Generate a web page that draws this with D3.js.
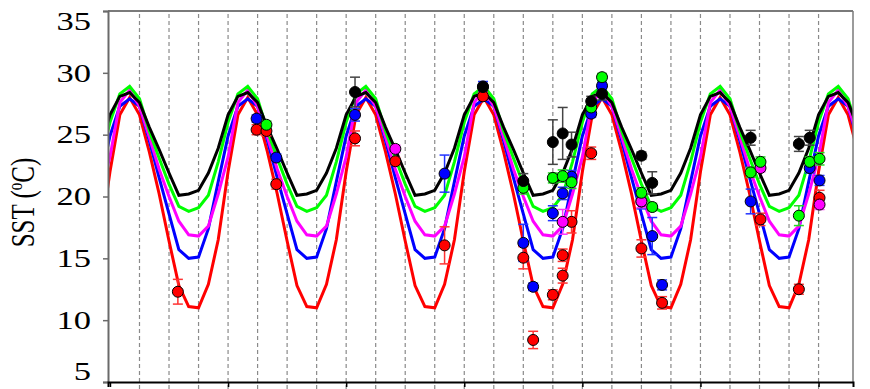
<!DOCTYPE html>
<html>
<head>
<meta charset="utf-8">
<script src="https://cdnjs.cloudflare.com/ajax/libs/d3/7.8.5/d3.min.js"></script>
<style>
  body { margin: 0; background: #fff; }
  svg { display: block; }
</style>
</head>
<body>
<div id="chart"></div>
<script>
// y axis ticks, yearly x ticks (months from start) and quarterly dashed grid
const yTicks = [5, 10, 15, 20, 25, 30, 35];
const yearTicks = [0, 12, 24, 36, 48, 60, 72];
const gridMonths = [3, 6, 9, 12, 15, 18, 21, 24, 27, 30, 33, 36, 39, 42, 45, 48, 51, 54, 57, 60, 63, 66, 69, 72];

// monthly climatology (month 0 = first year tick), repeated every year
const climBlack   = [26.6, 28.1, 28.4, 27.6, 25.6, 23.8, 21.9, 20.1, 20.2, 20.5, 21.9, 23.9];
const climGreen   = [26.0, 28.3, 28.9, 27.9, 25.3, 23.1, 21.0, 19.2, 18.8, 19.1, 20.1, 22.8];
const climMagenta = [23.2, 27.6, 28.6, 27.3, 24.8, 22.2, 20.0, 18.0, 16.9, 16.8, 17.6, 20.2];
const climBlue    = [24.9, 27.3, 27.9, 27.3, 24.5, 21.5, 18.6, 15.7, 15.0, 15.1, 17.4, 21.2];
const climRed     = [22.0, 26.6, 28.0, 26.6, 23.6, 20.2, 16.4, 12.8, 11.1, 11.0, 12.9, 16.5];

// observations: [month, SST, error]
const obsBlue = [
  [14.9, 26.3, 0.3], [16.9, 23.15, 0.3], [24.9, 26.6, 0.5], [34.0, 21.85, 1.5],
  [37.9, 28.9, 0.4], [42.0, 16.25, 1.5], [43.0, 12.7, 0.3], [45.0, 18.65, 0.6],
  [46.0, 20.25, 0.5], [46.9, 21.6, 0.5], [48.9, 26.7, 0.3], [50.0, 28.95, 0.3],
  [54.0, 19.6, 0.6], [55.1, 16.8, 1.5], [56.1, 12.85, 0.4], [65.1, 19.6, 1.0],
  [71.1, 22.3, 0.4], [72.1, 21.3, 0.4]
];
const obsRed = [
  [6.9, 12.3, 1.0], [14.9, 25.4, 0.4], [15.9, 25.3, 0.4], [16.9, 21.0, 0.4],
  [24.9, 24.7, 0.6], [29.0, 22.85, 0.3], [34.0, 16.05, 1.5], [37.9, 28.1, 0.3],
  [42.0, 15.05, 0.9], [43.0, 8.4, 0.7], [45.0, 12.05, 0.4], [46.0, 15.25, 0.5],
  [46.0, 13.6, 0.6], [46.9, 17.95, 0.9], [48.9, 23.5, 0.5], [54.0, 15.8, 0.7],
  [56.1, 11.4, 0.5], [66.1, 18.15, 0.5], [70.0, 12.5, 0.4], [72.1, 19.9, 0.6]
];
const obsMagenta = [
  [29.0, 23.85, 0.3], [46.0, 17.95, 1.0], [54.0, 19.6, 0.5], [66.1, 22.3, 0.3],
  [72.1, 19.35, 0.4]
];
const obsGreen = [
  [15.9, 25.8, 0.3], [42.0, 20.7, 0.5], [45.0, 21.5, 0.4], [46.0, 21.65, 0.5],
  [46.9, 21.15, 0.5], [48.9, 27.2, 0.4], [50.0, 29.65, 0.3], [54.0, 20.3, 0.4],
  [55.1, 19.15, 0.3], [65.1, 21.95, 0.4], [66.1, 22.8, 0.4], [70.0, 18.45, 0.8],
  [71.1, 22.8, 0.4], [72.1, 23.05, 0.5]
];
const obsBlack = [
  [24.9, 28.45, 1.2], [37.9, 28.85, 0.3], [42.0, 21.25, 0.6], [45.0, 24.4, 1.8],
  [46.0, 25.1, 2.1], [46.9, 24.2, 1.0], [48.9, 27.7, 0.4], [50.0, 28.3, 0.5],
  [54.0, 23.3, 0.3], [55.1, 21.1, 0.9], [65.1, 24.75, 0.6], [70.0, 24.25, 0.6],
  [71.1, 24.75, 0.6]
];

const width = 870, height = 389;
const margin = { left: 108, right: 17, top: 11, bottom: 7 };

const svg = d3.select("#chart").append("svg")
  .attr("width", width)
  .attr("height", height);

const x = d3.scaleLinear().domain([-0.2, 75.5]).range([margin.left, width - margin.right]);
const y = d3.scaleLinear().domain([5, 35]).range([height - margin.bottom, margin.top]);

svg.append("clipPath").attr("id", "plot")
  .append("rect")
  .attr("x", margin.left).attr("y", margin.top)
  .attr("width", width - margin.left - margin.right)
  .attr("height", height - margin.top - margin.bottom);

// dashed grid
svg.append("g").selectAll("line")
  .data(gridMonths)
  .join("line")
  .attr("x1", d => x(d)).attr("x2", d => x(d))
  .attr("y1", margin.top + 3).attr("y2", height)
  .attr("stroke", "#8a8a8a")
  .attr("stroke-width", 1.2)
  .attr("stroke-dasharray", "4,3");

// climatology lines
const months = d3.range(-1, 77);
const line = d3.line().x(d => x(d.m)).y(d => y(d.v));
const lines = [
  { c: "#ff0000", clim: climRed },
  { c: "#0000ff", clim: climBlue },
  { c: "#ff00ff", clim: climMagenta },
  { c: "#00ff00", clim: climGreen },
  { c: "#000000", clim: climBlack }
];
const lg = svg.append("g").attr("clip-path", "url(#plot)");
lines.forEach(s => {
  const data = months.map(m => ({ m: m, v: s.clim[((m % 12) + 12) % 12] }));
  lg.append("path")
    .datum(data)
    .attr("fill", "none")
    .attr("stroke", s.c)
    .attr("stroke-width", 3)
    .attr("stroke-linejoin", "miter")
    .attr("d", line);
});

// observations
const obs = [
  { c: "#0000ff", e: "#2233ff", d: obsBlue },
  { c: "#ff0000", e: "#ff3333", d: obsRed },
  { c: "#ff00ff", e: "#ff33ff", d: obsMagenta },
  { c: "#00ff00", e: "#22dd22", d: obsGreen },
  { c: "#000000", e: "#444444", d: obsBlack }
];
const eg = svg.append("g");
obs.forEach(s => {
  const g = eg.append("g").attr("stroke", s.e).attr("stroke-width", 1.5);
  g.selectAll(".bar").data(s.d).join("line")
    .attr("x1", d => x(d[0])).attr("x2", d => x(d[0]))
    .attr("y1", d => y(d[1] - d[2])).attr("y2", d => y(d[1] + d[2]));
  g.selectAll(".capT").data(s.d).join("line")
    .attr("x1", d => x(d[0]) - 5).attr("x2", d => x(d[0]) + 5)
    .attr("y1", d => y(d[1] + d[2])).attr("y2", d => y(d[1] + d[2]));
  g.selectAll(".capB").data(s.d).join("line")
    .attr("x1", d => x(d[0]) - 5).attr("x2", d => x(d[0]) + 5)
    .attr("y1", d => y(d[1] - d[2])).attr("y2", d => y(d[1] - d[2]));
});
const pg = svg.append("g");
obs.forEach(s => {
  pg.append("g").selectAll("circle").data(s.d).join("circle")
    .attr("cx", d => x(d[0]))
    .attr("cy", d => y(d[1]))
    .attr("r", 5.5)
    .attr("fill", s.c)
    .attr("stroke", "#000")
    .attr("stroke-width", 1);
});

// frame: top and right borders
svg.append("line")
  .attr("x1", margin.left).attr("x2", width - margin.right)
  .attr("y1", margin.top).attr("y2", margin.top)
  .attr("stroke", "#7a7a7a").attr("stroke-width", 2);
svg.append("line")
  .attr("x1", width - margin.right).attr("x2", width - margin.right)
  .attr("y1", margin.top).attr("y2", height - margin.bottom)
  .attr("stroke", "#7a7a7a").attr("stroke-width", 1.5);

// y axis
const yAxis = svg.append("g")
  .attr("transform", `translate(${margin.left},0)`)
  .call(d3.axisLeft(y).tickValues(yTicks).tickSize(5).tickFormat(""));
yAxis.select(".domain").attr("stroke", "#6a6a6a").attr("stroke-width", 2);
yAxis.selectAll(".tick line").attr("stroke", "#6a6a6a").attr("stroke-width", 1.5);

// tick labels, kept inside the picture at the ends
svg.append("g").selectAll("text")
  .data(yTicks)
  .join("text")
  .attr("transform", d => `translate(91,${Math.max(21, Math.min(371, y(d)))}) scale(1.38,1)`)
  .attr("dy", "0.35em")
  .attr("text-anchor", "end")
  .attr("font-family", "'Liberation Serif', 'Times New Roman', serif")
  .attr("font-size", 25)
  .attr("fill", "#000")
  .text(d => d);

// x axis
const xAxis = svg.append("g")
  .attr("transform", `translate(0,${height - margin.bottom})`)
  .call(d3.axisBottom(x).tickValues(yearTicks).tickSize(5).tickFormat(""));
xAxis.select(".domain").attr("stroke", "#000").attr("stroke-width", 2);
xAxis.selectAll(".tick line").attr("stroke", "#000").attr("stroke-width", 1.5);

// y label
const yl = svg.append("text")
  .attr("transform", `translate(34,${(margin.top + height - margin.bottom) / 2 + 6}) scale(1.35,1) rotate(-90)`)
  .attr("text-anchor", "middle")
  .attr("font-family", "'Liberation Serif', 'Times New Roman', serif")
  .attr("font-size", 25)
  .attr("fill", "#000");
yl.append("tspan").text("SST (");
yl.append("tspan").attr("dy", -9).attr("font-size", 15).text("o");
yl.append("tspan").attr("dy", 9).text("C)");
</script>
</body>
</html>
